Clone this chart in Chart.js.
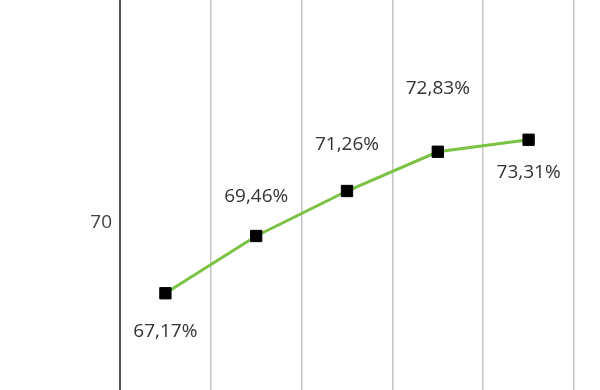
<!DOCTYPE html>
<html>
<head>
<meta charset="utf-8">
<script src="https://cdn.jsdelivr.net/npm/chart.js@4/dist/chart.umd.min.js"></script>
<style>
  html, body { margin: 0; padding: 0; background: #ffffff; }
  #wrap { width: 600px; height: 390px; position: relative; }
</style>
</head>
<body>
<div id="wrap"><canvas id="c"></canvas></div>
<script>
const categories = ['1', '2', '3', '4', '5'];
const values = [67.17, 69.46, 71.26, 72.83, 73.31];
const yTickValues = [70];

const labelPlugin = {
  id: 'pointLabels',
  afterDatasetsDraw(chart, args, opts) {
    const ctx = chart.ctx;
    const meta = chart.getDatasetMeta(0);
    ctx.save();
    ctx.font = opts.font;
    ctx.fillStyle = opts.color;
    ctx.textAlign = 'center';
    ctx.textBaseline = 'middle';
    meta.data.forEach((pt, i) => {
      const v = values[i];
      const txt = v.toFixed(2).replace('.', ',') + '%';
      ctx.fillText(txt, pt.x, pt.y + opts.offsets[i]);
    });
    ctx.restore();
  }
};

new Chart(document.getElementById('c'), {
  type: 'line',
  data: {
    labels: categories,
    datasets: [{
      data: values,
      borderColor: '#7bc143',
      borderWidth: 3,
      tension: 0,
      pointStyle: 'rect',
      pointRadius: 8,
      pointBackgroundColor: '#000000',
      pointBorderColor: '#000000',
      pointBorderWidth: 1,
      clip: false
    }]
  },
  options: {
    responsive: true,
    maintainAspectRatio: false,
    animation: false,
    layout: { autoPadding: false, padding: { left: 0, right: 26, top: 0, bottom: 0 } },
    plugins: {
      legend: { display: false },
      tooltip: { enabled: false },
      pointLabels: {
        font: '19px "Open Sans"',
        color: '#333333',
        offsets: [38, -39, -46, -63, 33]
      }
    },
    scales: {
      x: {
        offset: true,
        ticks: { display: false },
        border: { display: false },
        grid: { display: true, offset: true, color: '#c4c4c4', lineWidth: 1.5, drawTicks: false }
      },
      y: {
        min: 63.3,
        max: 78.9,
        afterBuildTicks(scale) { scale.ticks = yTickValues.map(v => ({ value: v })); },
        afterFit(scale) { scale.width = 120; scale.paddingTop = 0; scale.paddingBottom = 0; },
        ticks: { color: '#444444', font: { family: '"Open Sans"', size: 19 }, padding: 8 },
        grid: { display: false, drawTicks: false },
        border: { display: true, color: '#555555', width: 2 }
      }
    }
  },
  plugins: [labelPlugin]
});
</script>
</body>
</html>
